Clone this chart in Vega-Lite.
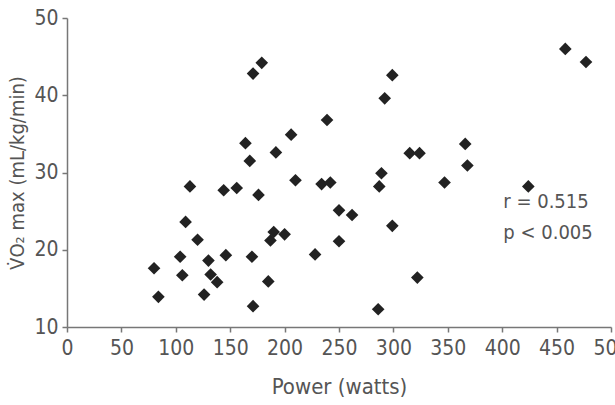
{
  "$schema": "https://vega.github.io/schema/vega-lite/v6.json",
  "autosize": "none",
  "padding": {"left": 67, "top": 18, "right": 4, "bottom": 78},
  "width": 544,
  "height": 309,
  "background": "white",
  "config": {
    "view": {"stroke": null},
    "font": "'DejaVu Sans Condensed', 'Open Sans', sans-serif",
    "axis": {"grid": false, "labelFlush": false, "domainColor": "#777", "tickColor": "#777", "domainWidth": 1.5, "tickWidth": 1.5, "labelColor": "#555", "titleColor": "#555", "labelFontSize": 21, "titleFontSize": 21, "titleFontWeight": "normal", "labelFont": "'DejaVu Sans Condensed', 'Open Sans', sans-serif", "titleFont": "'DejaVu Sans Condensed', 'Open Sans', sans-serif", "tickSize": 5}
  },
  "layer": [
    {
      "data": {"values": [
        {"power": 171, "vo2": 42.8}, {"power": 179, "vo2": 44.2}, {"power": 164, "vo2": 33.8},
        {"power": 168, "vo2": 31.5}, {"power": 192, "vo2": 32.6}, {"power": 206, "vo2": 34.9},
        {"power": 210, "vo2": 29.0}, {"power": 113, "vo2": 28.2}, {"power": 144, "vo2": 27.7},
        {"power": 156, "vo2": 28.0}, {"power": 176, "vo2": 27.1}, {"power": 234, "vo2": 28.5},
        {"power": 242, "vo2": 28.7}, {"power": 458, "vo2": 46.0}, {"power": 477, "vo2": 44.3},
        {"power": 299, "vo2": 42.6}, {"power": 292, "vo2": 39.6}, {"power": 239, "vo2": 36.8},
        {"power": 315, "vo2": 32.5}, {"power": 324, "vo2": 32.5}, {"power": 366, "vo2": 33.7},
        {"power": 368, "vo2": 30.9}, {"power": 289, "vo2": 29.9}, {"power": 287, "vo2": 28.2},
        {"power": 347, "vo2": 28.7}, {"power": 424, "vo2": 28.2}, {"power": 109, "vo2": 23.6},
        {"power": 120, "vo2": 21.3}, {"power": 104, "vo2": 19.1}, {"power": 80, "vo2": 17.6},
        {"power": 84, "vo2": 13.9}, {"power": 106, "vo2": 16.7}, {"power": 130, "vo2": 18.6},
        {"power": 132, "vo2": 16.8}, {"power": 138, "vo2": 15.8}, {"power": 126, "vo2": 14.2},
        {"power": 146, "vo2": 19.3}, {"power": 170, "vo2": 19.1}, {"power": 171, "vo2": 12.7},
        {"power": 185, "vo2": 15.9}, {"power": 187, "vo2": 21.2}, {"power": 190, "vo2": 22.3},
        {"power": 200, "vo2": 22.0}, {"power": 228, "vo2": 19.4}, {"power": 250, "vo2": 25.1},
        {"power": 262, "vo2": 24.5}, {"power": 299, "vo2": 23.1}, {"power": 250, "vo2": 21.1},
        {"power": 322, "vo2": 16.4}, {"power": 286, "vo2": 12.3}
      ]},
      "mark": {"type": "point", "shape": "diamond", "filled": true, "size": 160, "color": "#222", "opacity": 1},
      "encoding": {
        "x": {"field": "power", "type": "quantitative", "scale": {"domain": [0, 500], "nice": false, "zero": false}, "axis": {"title": "Power (watts)", "titleFontSize": 22, "values": [0, 50, 100, 150, 200, 250, 300, 350, 400, 450, 500], "labelPadding": 5, "titlePadding": 18}},
        "y": {"field": "vo2", "type": "quantitative", "scale": {"domain": [10, 50], "nice": false, "zero": false}, "axis": {"title": "V̇O₂ max (mL/kg/min)", "titleFontSize": 20, "values": [10, 20, 30, 40, 50], "labelPadding": 4, "titlePadding": 6}}
      }
    },
    {
      "data": {"values": [
        {"power": 401, "vo2": 26.2, "label": "r = 0.515"},
        {"power": 401, "vo2": 22.2, "label": "p < 0.005"}
      ]},
      "mark": {"type": "text", "align": "left", "baseline": "middle", "fontSize": 20, "font": "'DejaVu Sans Condensed', 'Open Sans', sans-serif", "color": "#555"},
      "encoding": {
        "x": {"field": "power", "type": "quantitative"},
        "y": {"field": "vo2", "type": "quantitative"},
        "text": {"field": "label"}
      }
    }
  ]
}
